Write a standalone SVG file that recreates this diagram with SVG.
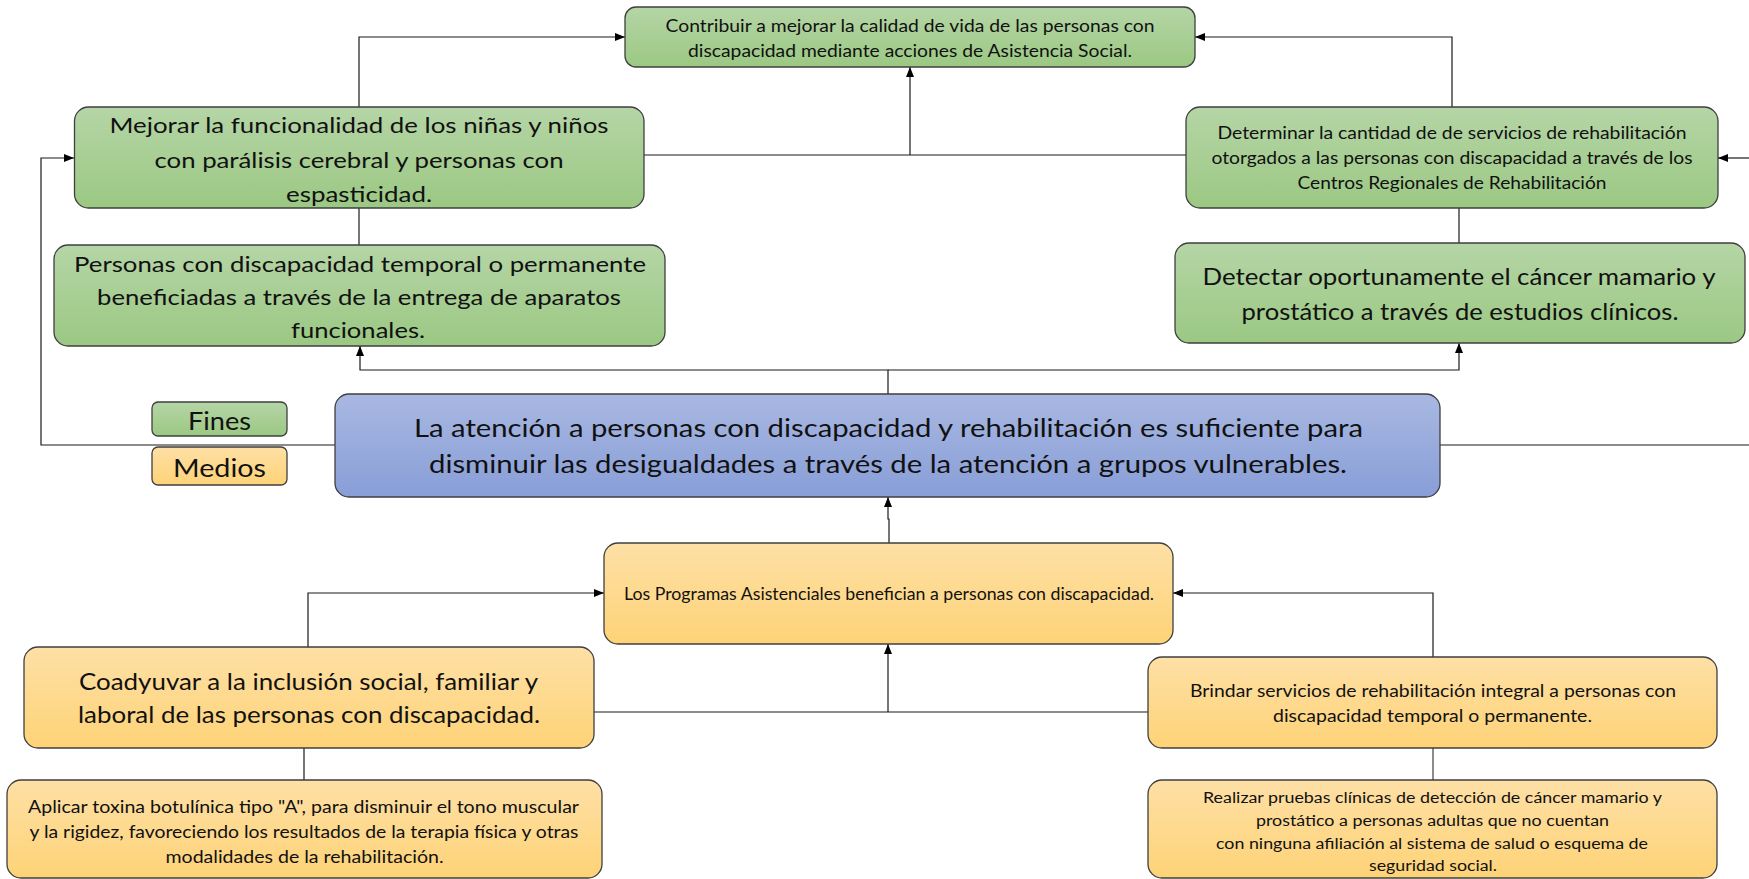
<svg xmlns="http://www.w3.org/2000/svg" width="1749" height="879" viewBox="0 0 1749 879">
<defs>
<linearGradient id="gG" x1="0" y1="0" x2="0" y2="1"><stop offset="0" stop-color="#b5d5a6"/><stop offset="1" stop-color="#9bc883"/></linearGradient>
<linearGradient id="gO" x1="0" y1="0" x2="0" y2="1"><stop offset="0" stop-color="#fee0a6"/><stop offset="1" stop-color="#fed377"/></linearGradient>
<linearGradient id="gB" x1="0" y1="0" x2="0" y2="1"><stop offset="0" stop-color="#a9b8e2"/><stop offset="1" stop-color="#889ed7"/></linearGradient>
<marker id="ar" viewBox="0 0 10 8" refX="10" refY="4" markerWidth="10" markerHeight="8" markerUnits="userSpaceOnUse" orient="auto"><path d="M0,0 L10,4 L0,8 Z" fill="#000"/></marker>
</defs>
<style>
.box{stroke:#3f3f3f;stroke-width:1.3}
.g{fill:url(#gG)} .o{fill:url(#gO)} .b{fill:url(#gB)}
text{font-family:Lato,"Open Sans","Liberation Sans",sans-serif;fill:#111;text-anchor:middle}
.c{fill:none;stroke:#1a1a1a;stroke-width:1.2}
.cg{fill:none;stroke:#666;stroke-width:1.5}
.a{marker-end:url(#ar)}
</style>
<rect width="1749" height="879" fill="#fff"/>
<g id="connectors">
<path class="c a" d="M359,107 V37 H625"/>
<path class="cg" d="M644,155 H1186"/>
<path class="c a" d="M910,155 V67"/>
<path class="c a" d="M1452,107 V37 H1195"/>
<path class="c" d="M359,208 V245"/>
<path class="c" d="M1459,208 V243"/>
<path class="c a" d="M888,394 V370 H360 V346"/>
<path class="c a" d="M888,370 H1459 V343"/>
<path class="c a" d="M335,445 H41 V158 H74"/>
<path class="c" d="M1440,445 H1749"/>
<path class="c a" d="M1749,158 H1718"/>
<path class="c a" d="M889,543 V519 H888 V497"/>
<path class="c a" d="M308,647 V593 H604"/>
<path class="c a" d="M1433,657 V593 H1173"/>
<path class="c" d="M594,712 H1148"/>
<path class="c a" d="M888,712 V644"/>
<path class="c" d="M304,748 V780"/>
<path class="cg" d="M1433,748 V780"/>
</g>
<g id="contribuir">
<rect class="box g" x="625" y="7" width="570" height="60" rx="11"/>
<text font-size="16.5"><tspan x="910" y="32" textLength="489" lengthAdjust="spacingAndGlyphs">Contribuir a mejorar la calidad de vida de las personas con</tspan><tspan x="910" y="57" textLength="444" lengthAdjust="spacingAndGlyphs">discapacidad mediante acciones de Asistencia Social.</tspan></text>
</g>
<g id="mejorar">
<rect class="box g" x="74.5" y="107" width="569.5" height="101" rx="14"/>
<text font-size="22"><tspan x="359" y="133" textLength="499" lengthAdjust="spacingAndGlyphs">Mejorar la funcionalidad de los niñas y niños</tspan><tspan x="359" y="168" textLength="409" lengthAdjust="spacingAndGlyphs">con parálisis cerebral y personas con</tspan><tspan x="359" y="202" textLength="146" lengthAdjust="spacingAndGlyphs">espasticidad.</tspan></text>
</g>
<g id="personas">
<rect class="box g" x="54" y="245" width="611" height="101" rx="14"/>
<text font-size="22"><tspan x="360" y="272" textLength="572" lengthAdjust="spacingAndGlyphs">Personas con discapacidad temporal o permanente</tspan><tspan x="359" y="305" textLength="524" lengthAdjust="spacingAndGlyphs">beneficiadas a través de la entrega de aparatos</tspan><tspan x="358" y="338" textLength="134" lengthAdjust="spacingAndGlyphs">funcionales.</tspan></text>
</g>
<g id="determinar">
<rect class="box g" x="1186" y="107" width="532" height="101" rx="14"/>
<text font-size="16.5"><tspan x="1452" y="139" textLength="469" lengthAdjust="spacingAndGlyphs">Determinar la cantidad de de servicios de rehabilitación</tspan><tspan x="1452" y="164" textLength="481" lengthAdjust="spacingAndGlyphs">otorgados a las personas con discapacidad a través de los</tspan><tspan x="1452" y="189" textLength="309" lengthAdjust="spacingAndGlyphs">Centros Regionales de Rehabilitación</tspan></text>
</g>
<g id="detectar">
<rect class="box g" x="1175" y="243" width="570" height="100" rx="14"/>
<text font-size="24"><tspan x="1459" y="285" textLength="513" lengthAdjust="spacingAndGlyphs">Detectar oportunamente el cáncer mamario y</tspan><tspan x="1460" y="320" textLength="437" lengthAdjust="spacingAndGlyphs">prostático a través de estudios clínicos.</tspan></text>
</g>
<g id="fines">
<rect class="box g" x="152" y="402" width="135" height="34" rx="6"/>
<text font-size="25" x="219.5" y="430" textLength="63" lengthAdjust="spacingAndGlyphs">Fines</text>
</g>
<g id="medios">
<rect class="box o" x="152" y="447" width="135" height="38" rx="6"/>
<text font-size="25" x="219.5" y="477" textLength="93" lengthAdjust="spacingAndGlyphs">Medios</text>
</g>
<g id="central">
<rect class="box b" x="335" y="394" width="1105" height="103" rx="14"/>
<text font-size="25.5"><tspan x="888.5" y="437" textLength="949" lengthAdjust="spacingAndGlyphs">La atención a personas con discapacidad y rehabilitación  es suficiente para</tspan><tspan x="888" y="473" textLength="918" lengthAdjust="spacingAndGlyphs">disminuir las desigualdades a través de la atención a grupos vulnerables.</tspan></text>
</g>
<g id="programas">
<rect class="box o" x="604" y="543" width="569" height="101" rx="14"/>
<text font-size="16.5" x="889" y="600" textLength="530" lengthAdjust="spacingAndGlyphs">Los Programas Asistenciales benefician a personas con discapacidad.</text>
</g>
<g id="coadyuvar">
<rect class="box o" x="24" y="647" width="570" height="101" rx="14"/>
<text font-size="22.5"><tspan x="308.5" y="690" textLength="459" lengthAdjust="spacingAndGlyphs">Coadyuvar a la inclusión social, familiar y</tspan><tspan x="309" y="723" textLength="462" lengthAdjust="spacingAndGlyphs">laboral de las personas con discapacidad.</tspan></text>
</g>
<g id="brindar">
<rect class="box o" x="1148" y="657" width="569" height="91" rx="14"/>
<text font-size="16.5"><tspan x="1433" y="697" textLength="486" lengthAdjust="spacingAndGlyphs">Brindar servicios de rehabilitación integral a personas con</tspan><tspan x="1432.5" y="722" textLength="319" lengthAdjust="spacingAndGlyphs">discapacidad temporal o permanente.</tspan></text>
</g>
<g id="aplicar">
<rect class="box o" x="7" y="780" width="595" height="98" rx="14"/>
<text font-size="16.5"><tspan x="303.5" y="813" textLength="551" lengthAdjust="spacingAndGlyphs">Aplicar toxina botulínica tipo "A", para disminuir el tono muscular</tspan><tspan x="304" y="838" textLength="549" lengthAdjust="spacingAndGlyphs">y la rigidez, favoreciendo los resultados de la terapia física y otras</tspan><tspan x="304.5" y="863" textLength="278" lengthAdjust="spacingAndGlyphs">modalidades de la rehabilitación.</tspan></text>
</g>
<g id="realizar">
<rect class="box o" x="1148" y="780" width="569" height="98" rx="14"/>
<text font-size="15.5"><tspan x="1432.5" y="803" textLength="459" lengthAdjust="spacingAndGlyphs">Realizar pruebas clínicas de detección de cáncer mamario y</tspan><tspan x="1432.5" y="826" textLength="353" lengthAdjust="spacingAndGlyphs">prostático a personas adultas que no cuentan</tspan><tspan x="1432" y="849" textLength="432" lengthAdjust="spacingAndGlyphs">con ninguna afiliación al sistema de salud o esquema de</tspan><tspan x="1433" y="871" textLength="128" lengthAdjust="spacingAndGlyphs">seguridad social.</tspan></text>
</g>
</svg>
